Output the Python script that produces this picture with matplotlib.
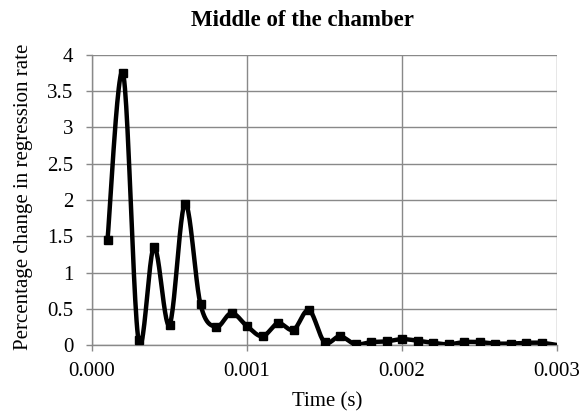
import numpy as np
import matplotlib
matplotlib.use("Agg")
import matplotlib.pyplot as plt

# Sample times (s) and percentage change in regression rate
time_s = [0.0001, 0.0002, 0.0003, 0.0004, 0.0005, 0.0006, 0.0007, 0.0008,
          0.0009, 0.0010, 0.0011, 0.0012, 0.0013, 0.0014, 0.0015, 0.0016,
          0.0017, 0.0018, 0.0019, 0.0020, 0.0021, 0.0022, 0.0023, 0.0024,
          0.0025, 0.0026, 0.0027, 0.0028, 0.0029, 0.0030]
pct_change = [1.45, 3.75, 0.07, 1.35, 0.28, 1.95, 0.56, 0.25,
              0.44, 0.26, 0.12, 0.30, 0.21, 0.48, 0.04, 0.12,
              0.01, 0.04, 0.05, 0.08, 0.06, 0.03, 0.01, 0.04,
              0.04, 0.02, 0.02, 0.03, 0.03, 0.00]

x_ticks = [0.000, 0.001, 0.002, 0.003]
x_tick_labels = ["0.000", "0.001", "0.002", "0.003"]
y_ticks = [0, 0.5, 1, 1.5, 2, 2.5, 3, 3.5, 4]
y_tick_labels = ["0", "0.5", "1", "1.5", "2", "2.5", "3", "3.5", "4"]


def smooth_curve(x, y, steps=24):
    """Catmull-Rom style smoothed path through every point."""
    x = np.asarray(x, float)
    y = np.asarray(y, float)
    px = np.concatenate([[x[0]], x, [x[-1]]])
    py = np.concatenate([[y[0]], y, [y[-1]]])
    xs, ys = [], []
    t = np.linspace(0, 1, steps, endpoint=False)
    for i in range(1, len(px) - 2):
        p0, p1, p2, p3 = (np.array([px[j], py[j]]) for j in (i - 1, i, i + 1, i + 2))
        c1 = p1 + (p2 - p0) / 6.0
        c2 = p2 - (p3 - p1) / 6.0
        b = ((1 - t) ** 3)[:, None] * p1 + (3 * (1 - t) ** 2 * t)[:, None] * c1 \
            + (3 * (1 - t) * t ** 2)[:, None] * c2 + (t ** 3)[:, None] * p2
        xs.append(b[:, 0])
        ys.append(b[:, 1])
    xs.append([x[-1]])
    ys.append([y[-1]])
    return np.concatenate(xs), np.concatenate(ys)


plt.rcParams["font.family"] = ["Liberation Serif", "DejaVu Serif"]

W, H = 582, 415
fig = plt.figure(figsize=(W / 100, H / 100), dpi=100)
ax = fig.add_axes([92 / W, 1 - 345 / H, 465 / W, 290 / H])

sx, sy = smooth_curve(time_s, pct_change)
ax.plot(sx, sy, color="black", linewidth=3.2, solid_joinstyle="round", zorder=3)
ax.plot(time_s[:-1], pct_change[:-1], linestyle="none", marker="s",
        markersize=6, color="black", zorder=4)

ax.set_xlim(0, 0.003)
ax.set_ylim(0, 4)
ax.set_xticks(x_ticks)
ax.set_xticklabels(x_tick_labels)
ax.set_yticks(y_ticks)
ax.set_yticklabels(y_tick_labels)

grid_color = "#898989"
ax.grid(True, color=grid_color, linewidth=1.0)
ax.set_axisbelow(True)
for side in ("top", "right"):
    ax.spines[side].set_visible(False)
for side in ("left", "bottom"):
    ax.spines[side].set_color(grid_color)
    ax.spines[side].set_linewidth(1.0)
ax.tick_params(axis="both", direction="out", length=4.3, width=1.0,
               color=grid_color, labelsize=15)
ax.tick_params(axis="y", pad=9)
ax.tick_params(axis="x", pad=8)

fig.text(302 / W, 1 - 21 / H, "Middle of the chamber", fontsize=16.5,
         fontweight="bold", ha="center", va="center")

ax.set_xlabel("Time (s)", fontsize=15, va="center")
ax.xaxis.set_label_coords(327 / W, 1 - 402 / H, transform=fig.transFigure)
ax.set_ylabel("Percentage change in regression rate", fontsize=15, va="center")
ax.yaxis.set_label_coords(24 / W, 1 - 197 / H, transform=fig.transFigure)

fig.savefig("out.png", dpi=100)
